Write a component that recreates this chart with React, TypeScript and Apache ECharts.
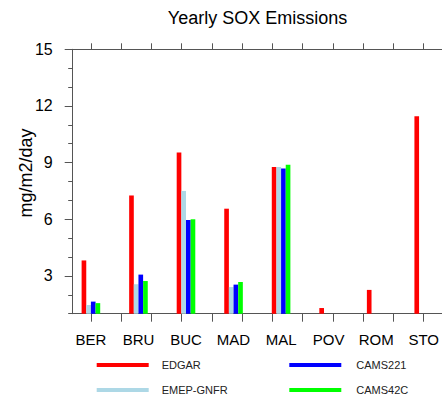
import React, { useEffect, useRef } from "react";
import * as echarts from "echarts";

const categories = ["BER", "BRU", "BUC", "MAD", "MAL", "POV", "ROM", "STO"];
const categoryPositions = [1, 2, 3, 4, 5, 6, 7, 8];
const edgar = [3.82, 7.26, 9.53, 6.56, 8.77, 1.3, 2.26, 11.46];
const emepGnfr = [1.46, 2.56, 7.5, 2.41, 8.77, null, null, null];
const cams221 = [1.64, 3.07, 5.96, 2.54, 8.69, null, null, null];
const cams42c = [1.56, 2.73, 6.0, 2.68, 8.89, null, null, null];
const yTickLabels = [3, 6, 9, 12, 15];
const xTickPositions = [1, 1.636, 2.273, 2.909, 3.545, 4.182, 4.818, 5.455, 6.091, 6.727, 7.364, 8];

const seriesNames = ["EDGAR", "EMEP-GNFR", "CAMS221", "CAMS42C"];
const seriesValues = [edgar, emepGnfr, cams221, cams42c];
const seriesColors = ["#ff0000", "#add8e6", "#0000ff", "#00ff00"];

const FONT = "'Liberation Sans', Arial, Helvetica, sans-serif";
const AXIS_COLOR = "#555";

export default function App() {
  const ref = useRef<HTMLDivElement>(null);
  useEffect(() => {
    if (!ref.current) return;
    const chart = echarts.init(ref.current, null, { renderer: "svg" });
    const gridBox = { left: 72.7, top: 49.3, width: 370.9, height: 264.4 };
    const lineStyle = { color: AXIS_COLOR, width: 1 };
    const legendBase = {
      padding: 0,
      icon: "rect",
      itemWidth: 52,
      itemHeight: 4,
      selectedMode: false,
    };
    const legendText = (padLeft: number) => ({
      fontSize: 11,
      color: "#222",
      fontFamily: FONT,
      padding: [0, 0, 0, padLeft],
    });
    chart.setOption({
      animation: false,
      backgroundColor: "#fff",
      title: {
        text: "Yearly SOX Emissions",
        left: 257.5,
        top: 9,
        textAlign: "center",
        padding: 0,
        textStyle: { fontSize: 18, fontWeight: "normal", color: "#000", fontFamily: FONT },
      },
      grid: [
        { ...gridBox, containLabel: false },
        { ...gridBox, containLabel: false },
      ],
      legend: [
        { ...legendBase, data: [seriesNames[0]], left: 96.7, top: 359.5, textStyle: legendText(8) },
        { ...legendBase, data: [seriesNames[1]], left: 96.7, top: 384.5, textStyle: legendText(8) },
        { ...legendBase, data: [seriesNames[2]], left: 289.3, top: 359.5, textStyle: legendText(10) },
        { ...legendBase, data: [seriesNames[3]], left: 289.3, top: 384.5, textStyle: legendText(10) },
      ],
      xAxis: [
        {
          type: "value",
          gridIndex: 0,
          position: "bottom",
          min: 0.617,
          max: 8.383,
          axisLine: { show: true, onZero: false, lineStyle },
          axisTick: { show: true, inside: false, length: 8, customValues: xTickPositions, lineStyle },
          axisLabel: {
            show: true,
            customValues: categoryPositions,
            formatter: (v: number) => categories[Math.round(v) - 1] ?? "",
            fontSize: 15,
            color: "#000",
            fontFamily: FONT,
            margin: 18,
          },
          splitLine: { show: false },
        },
        {
          type: "value",
          gridIndex: 0,
          position: "top",
          min: 0.617,
          max: 8.383,
          axisLine: { show: true, onZero: false, lineStyle },
          axisTick: { show: true, inside: false, length: 6, customValues: xTickPositions, lineStyle },
          axisLabel: { show: false },
          splitLine: { show: false },
        },
        {
          type: "value",
          gridIndex: 1,
          min: 0.617,
          max: 8.383,
          show: false,
        },
      ],
      yAxis: [
        {
          type: "value",
          gridIndex: 0,
          position: "left",
          min: 1,
          max: 15,
          interval: 1,
          startValue: 1,
          axisLine: { show: true, onZero: false, lineStyle },
          axisTick: { show: true, inside: false, length: 4.5, lineStyle },
          axisLabel: {
            show: true,
            customValues: yTickLabels,
            fontSize: 16,
            color: "#000",
            fontFamily: FONT,
            margin: 20,
          },
          splitLine: { show: false },
        },
        {
          type: "value",
          gridIndex: 1,
          position: "left",
          min: 1,
          max: 15,
          axisLine: { show: false, onZero: false },
          axisTick: { show: true, inside: false, length: 8, customValues: yTickLabels, lineStyle },
          axisLabel: { show: false },
          splitLine: { show: false },
        },
      ],
      graphic: [
        {
          type: "text",
          x: 26,
          y: 173,
          rotation: Math.PI / 2,
          style: {
            text: "mg/m2/day",
            font: `18px ${FONT}`,
            fill: "#000",
            textAlign: "center",
            textVerticalAlign: "middle",
          },
        },
      ],
      series: seriesNames.map((name, s) => ({
        name,
        type: "bar",
        xAxisIndex: 0,
        yAxisIndex: 0,
        barWidth: 4.65,
        barGap: "0%",
        clip: true,
        itemStyle: { color: seriesColors[s] },
        data: categoryPositions.map((x, i) => [x, seriesValues[s][i]]),
      })),
    });
    return () => chart.dispose();
  }, []);
  return (
    <div
      ref={ref}
      style={{ position: "fixed", left: 0, top: 0, width: 442, height: 398, background: "#fff" }}
    />
  );
}
